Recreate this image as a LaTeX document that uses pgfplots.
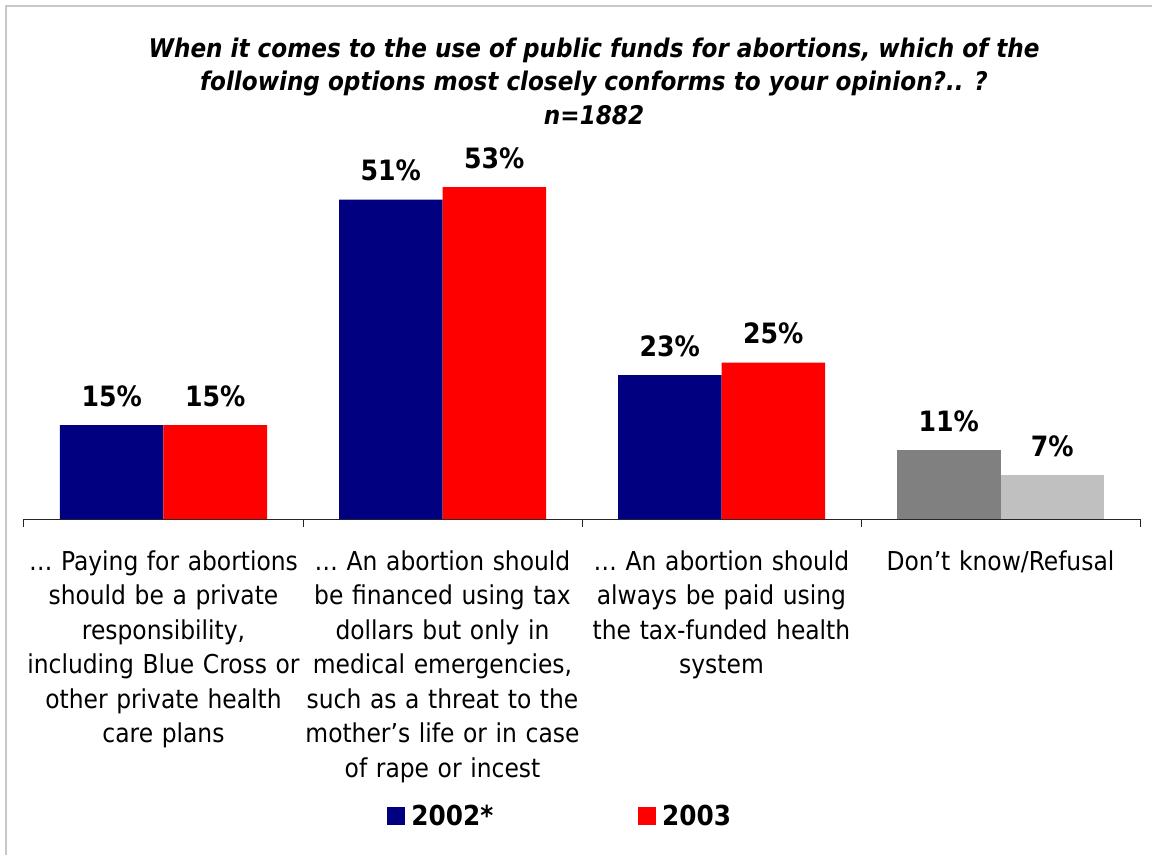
\documentclass[border=0pt]{standalone}
\usepackage{fontspec}
\setmainfont{DejaVu Sans Condensed}
\usepackage{pgfplots}
\pgfplotsset{compat=1.18}
\definecolor{navy2002}{HTML}{000080}
\definecolor{red2003}{HTML}{FF0000}
\definecolor{dkgrey}{HTML}{808080}
\definecolor{ltgrey}{HTML}{C0C0C0}
\definecolor{framegrey}{HTML}{C8C8C8}
\begin{document}
\begin{tikzpicture}
\useasboundingbox (0,0) rectangle (1152bp,-855bp);
\fill[white] (0,0) rectangle (1152bp,-855bp);
\draw[framegrey, line width=2.2bp] (6bp,-855bp) -- (6bp,-6bp) -- (1152bp,-6bp);
\node[align=center, font=\fontsize{25.7bp}{33.5bp}\selectfont\bfseries\itshape] at (594bp,-81bp)
  {When it comes to the use of public funds for abortions, which of the\\following options most closely conforms to your opinion?.. ?\\n=1882};
\begin{axis}[
  at={(24bp,-519bp)}, anchor=south west,
  scale only axis, width=1116bp, height=375.6bp,
  xmin=-0.5, xmax=3.5, ymin=0, ymax=60,
  axis x line*=bottom, axis y line=none,
  x axis line style={black!85, line width=1bp},
  xtick={0,1,2,3},
  xticklabels={{… Paying for abortions\\should be a private\\responsibility,\\including Blue Cross or\\other private health\\care plans},
               {… An abortion should\\be financed using tax\\dollars but only in\\medical emergencies,\\such as a threat to the\\mother’s life or in case\\of rape or incest},
               {… An abortion should\\always be paid using\\the tax-funded health\\system},
               {Don’t know/Refusal}},
  xticklabel style={text width=300bp, align=center, anchor=north, yshift=-28bp,
     font=\fontsize{26bp}{34.5bp}\selectfont},
  major tick length=0pt,
  tick align=outside,
  extra x ticks={-0.5,0.5,1.5,2.5,3.5},
  extra x tick labels={},
  extra x tick style={major tick length=8bp, tick style={black!85, line width=1bp}},
  ybar=0pt, bar width=103.5bp,
  /pgf/number format/assume math mode=true,
  nodes near coords={\pgfmathprintnumber{\pgfplotspointmeta}\%},
  every node near coord/.append style={font=\fontsize{28bp}{32bp}\selectfont\bfseries, anchor=south, yshift=15bp},
  legend style={at={(0.4805,-0.791)}, anchor=center, draw=none, fill=none,
     legend columns=2, font=\fontsize{27.5bp}{32bp}\selectfont\bfseries,
     /tikz/every odd column/.append style={column sep=4bp},
     /tikz/every even column/.append style={column sep=143bp}},
  legend image code/.code={\fill[#1] (0bp,-9bp) rectangle (18bp,9bp);},
]
\addplot[fill=navy2002, draw=none, bar shift=-51.75bp] coordinates {(0,15) (1,51) (2,23)};
\addlegendentry{2002*}
\addplot[fill=red2003, draw=none, bar shift=51.75bp] coordinates {(0,15) (1,53) (2,25)};
\addlegendentry{2003}
\addplot[fill=dkgrey, draw=none, bar shift=-51.75bp, forget plot] coordinates {(3,11)};
\addplot[fill=ltgrey, draw=none, bar shift=51.75bp, forget plot] coordinates {(3,7)};
\end{axis}
\end{tikzpicture}
\end{document}
